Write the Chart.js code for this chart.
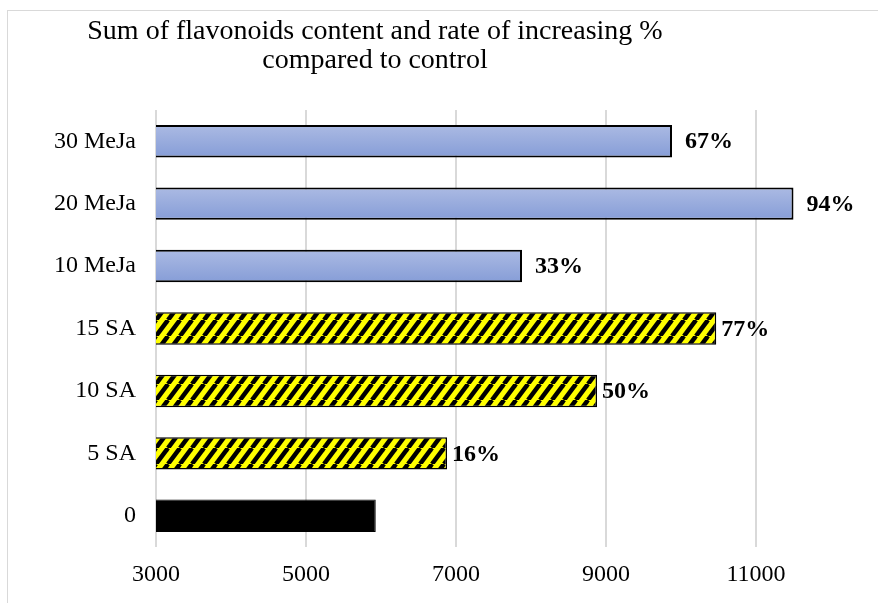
<!DOCTYPE html>
<html>
<head>
<meta charset="utf-8">
<title>Sum of flavonoids</title>
<script src="https://cdn.jsdelivr.net/npm/chart.js@4.4.1/dist/chart.umd.min.js"></script>
<style>
  html, body { margin: 0; padding: 0; background: #fff; overflow: hidden; }
  #wrap { position: relative; width: 878px; height: 603px; overflow: hidden; }
  #frame { position: absolute; left: 7px; top: 10px; right: -10px; bottom: -10px;
           border-left: 1px solid #d9d9d9; border-top: 1px solid #d9d9d9; }
  #title { position: absolute; left: 25px; width: 700px; top: 15px; text-align: center;
           font-family: "Liberation Serif", "Times New Roman", serif; font-size: 28px;
           line-height: 29px; color: #000; }
  #box { position: absolute; left: 0; top: 0; width: 878px; height: 603px; }
</style>
</head>
<body>
<div id="wrap">
  <div id="frame"></div>
  <div id="box"><canvas id="flavChart"></canvas></div>
  <div id="title">Sum of flavonoids content and rate of increasing %<br>compared to control</div>
</div>
<script>
// treatments, top to bottom
const treatments = ['30 MeJa', '20 MeJa', '10 MeJa', '15 SA', '10 SA', '5 SA', '0'];
// sum of flavonoids
const flavSum = [9880, 11500, 7880, 10470, 8880, 6880, 5930];
// increase compared to control
const increase = ['67%', '94%', '33%', '77%', '50%', '16%', ''];
// which group each bar belongs to
const group = ['MeJa', 'MeJa', 'MeJa', 'SA', 'SA', 'SA', 'control'];
const xTicks = [3000, 5000, 7000, 9000, 11000];

const serif = '"Liberation Serif", "Times New Roman", serif';

// yellow / black diagonal stripes for SA
function stripeTile() {
	const w = 12, h = 16;
	const c = document.createElement('canvas');
	c.width = w; c.height = h;
	const g = c.getContext('2d');
	g.fillStyle = '#ffff00';
	g.fillRect(0, 0, w, h);
	g.strokeStyle = '#000';
	g.lineWidth = 4.5;
	for (let x0 = -w; x0 <= w; x0 += w) {
		g.beginPath();
		g.moveTo(x0, h);
		g.lineTo(x0 + w, 0);
		g.stroke();
	}
	return c;
}

const ctx = document.getElementById('flavChart').getContext('2d');
const stripes = ctx.createPattern(stripeTile(), 'repeat');

const fillFor = { MeJa: '#9aaddd', SA: stripes, control: '#000000' };
const borderFor = { MeJa: 2, SA: 1.5, control: 1 };
const gapFor = { MeJa: 13, SA: 5, control: 5 };

// blue bars get a light-to-dark vertical gradient
const barGradient = {
	id: 'barGradient',
	beforeDatasetsDraw(chart) {
		const meta = chart.getDatasetMeta(0);
		meta.data.forEach((bar, i) => {
			if (group[i] !== 'MeJa') return;
			const h = bar.height / 2;
			const gr = chart.ctx.createLinearGradient(0, bar.y - h, 0, bar.y + h);
			gr.addColorStop(0, '#abbae3');
			gr.addColorStop(1, '#869dd7');
			bar.options.backgroundColor = gr;
		});
	}
};

// percentage labels after the bar ends
const barLabels = {
	id: 'barLabels',
	afterDatasetsDraw(chart) {
		const c = chart.ctx;
		const meta = chart.getDatasetMeta(0);
		c.save();
		c.font = 'bold 24px ' + serif;
		c.fillStyle = '#000';
		c.textAlign = 'left';
		c.textBaseline = 'middle';
		meta.data.forEach((bar, i) => {
			if (!increase[i]) return;
			c.fillText(increase[i], bar.x + gapFor[group[i]], bar.y + 1);
		});
		c.restore();
	}
};

new Chart(ctx, {
	type: 'bar',
	data: {
		labels: treatments,
		datasets: [{
			data: flavSum,
			backgroundColor: group.map(g => fillFor[g]),
			borderColor: '#000',
			borderWidth: group.map(g => borderFor[g]),
			borderSkipped: false,
			categoryPercentage: 1,
			barPercentage: 0.52
		}]
	},
	options: {
		indexAxis: 'y',
		responsive: true,
		maintainAspectRatio: false,
		animation: false,
		layout: { padding: { left: 0, right: 9.5, top: 110, bottom: 0 } },
		plugins: {
			legend: { display: false },
			tooltip: { enabled: false }
		},
		scales: {
			x: {
				min: 3000,
				max: 12500,
				afterBuildTicks: s => { s.ticks = xTicks.map(v => ({ value: v })); },
				afterFit: s => { s.height = 56; },
				grid: {
					color: c => xTicks.includes(c.tick && c.tick.value) ? '#d9d9d9' : 'rgba(0,0,0,0)',
					lineWidth: 2,
					drawTicks: false
				},
				border: { display: false },
				ticks: {
					color: '#000', padding: 13,
					font: { family: serif, size: 24 },
					callback: v => String(v)
				}
			},
			y: {
				afterFit: s => { s.width = 156; },
				grid: { display: false, drawTicks: false },
				border: { display: false },
				ticks: { color: '#000', padding: 20, font: { family: serif, size: 24 } }
			}
		}
	},
	plugins: [barGradient, barLabels]
});
</script>
</body>
</html>
